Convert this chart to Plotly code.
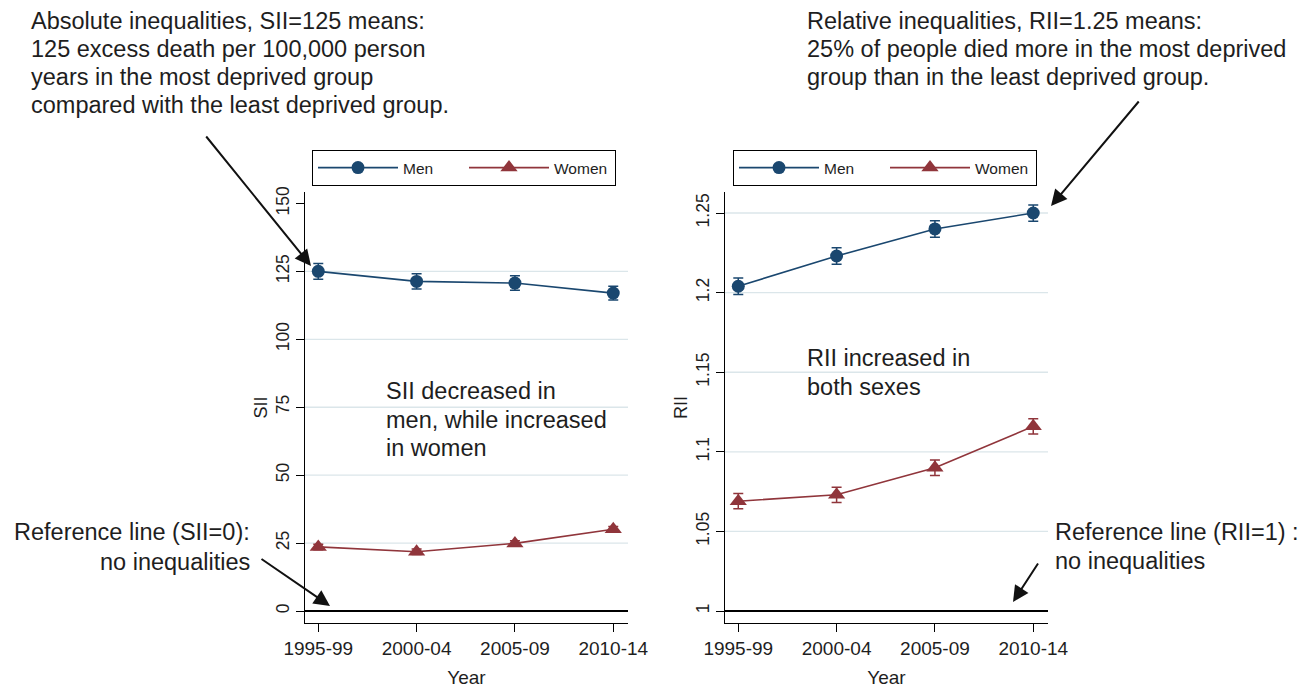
import plotly.graph_objects as go

# ---- data -------------------------------------------------------------
periods = ["1995-99", "2000-04", "2005-09", "2010-14"]

sii_men = [125.0, 121.3, 120.7, 117.0]
sii_men_err = [2.9, 2.8, 2.7, 2.5]
sii_women = [23.6, 21.8, 24.9, 30.1]
sii_women_err = [1.0, 1.0, 1.0, 1.0]

rii_men = [1.204, 1.223, 1.240, 1.250]
rii_men_err = [0.0052, 0.0052, 0.0052, 0.0051]
rii_women = [1.069, 1.073, 1.090, 1.116]
rii_women_err = [0.0048, 0.0048, 0.0048, 0.0048]

sii_ticks = [0, 25, 50, 75, 100, 125, 150]
sii_grid = [25, 50, 75, 100, 125]
rii_ticks = [1, 1.05, 1.1, 1.15, 1.2, 1.25]
rii_grid = [1.05, 1.1, 1.15, 1.2, 1.25]

# ---- styling ----------------------------------------------------------
W, H = 1313, 688
FONT = "Liberation Sans, Arial, Helvetica, sans-serif"
TXT = "#1e1e1e"
NAVY = "#1a476f"
MAROON = "#90353b"
GRID = "#dbe6ea"

def px_x(p):
    return p / W

def px_y(p):
    return 1 - p / H

x_idx = list(range(len(periods)))

fig = go.Figure()

def add_series(xa, ya, y, err, color, symbol, name, legend, size):
    fig.add_trace(go.Scatter(
        x=x_idx, y=y, xaxis=xa, yaxis=ya, name=name, legend=legend,
        mode="lines+markers",
        line=dict(color=color, width=1.6),
        marker=dict(color=color, symbol=symbol, size=size),
        error_y=dict(type="data", array=err, visible=True,
                     color=color, thickness=1.5, width=5),
    ))

add_series("x", "y", sii_men, sii_men_err, NAVY, "circle", "Men", "legend", 13)
add_series("x", "y", sii_women, sii_women_err, MAROON, "triangle-up", "Women", "legend", 15)
add_series("x2", "y2", rii_men, rii_men_err, NAVY, "circle", "Men", "legend2", 13)
add_series("x2", "y2", rii_women, rii_women_err, MAROON, "triangle-up", "Women", "legend2", 15)

ydom = [px_y(623), px_y(192)]
xrange = [-0.135, 3.15]

common_x = dict(
    tickmode="array", tickvals=x_idx, ticktext=periods, range=xrange,
    showline=True, linecolor="black", linewidth=1.3, automargin=False,
    ticks="outside", ticklen=8, tickcolor="black", tickwidth=1,
    showgrid=False, zeroline=False,
    tickfont=dict(family=FONT, size=19, color=TXT),
    title=dict(text="Year", font=dict(family=FONT, size=19, color=TXT), standoff=16),
)
common_y = dict(
    showline=True, linecolor="black", linewidth=1.3, automargin=False,
    ticks="outside", ticklen=8, tickcolor="black", tickwidth=1,
    showgrid=False, zeroline=False, tickangle=-90,
    tickfont=dict(family=FONT, size=17.5, color=TXT),
)

legend_style = dict(
    xanchor="left", yanchor="top", orientation="h",
    bordercolor="black", borderwidth=1, bgcolor="white",
    itemwidth=80, entrywidth=56,
    font=dict(family=FONT, size=15.5, color=TXT),
)

fig.update_layout(
    width=W, height=H,
    margin=dict(l=0, r=0, t=0, b=0, autoexpand=False),
    paper_bgcolor="white", plot_bgcolor="white",
    font=dict(family=FONT, color=TXT),
    xaxis=dict(domain=[px_x(305), px_x(628)], anchor="y", **common_x),
    xaxis2=dict(domain=[px_x(725), px_x(1048)], anchor="y2", **common_x),
    yaxis=dict(domain=ydom, anchor="x", range=[-4.4, 154.2],
               tickvals=sii_ticks, ticktext=[str(v) for v in sii_ticks],
               title=dict(text="SII", font=dict(family=FONT, size=18, color=TXT), standoff=0),
               **common_y),
    yaxis2=dict(domain=ydom, anchor="x2", range=[0.9925, 1.2632],
                tickvals=rii_ticks, ticktext=["1", "1.05", "1.1", "1.15", "1.2", "1.25"],
                title=dict(text="RII", font=dict(family=FONT, size=18, color=TXT), standoff=0),
                **common_y),
    legend=dict(x=px_x(312), y=px_y(150), **legend_style),
    legend2=dict(x=px_x(733), y=px_y(150), **legend_style),
)

# gridlines and the zero-inequality reference lines
shapes = []
for v in sii_grid:
    shapes.append(dict(type="line", xref="x domain", yref="y", x0=0, x1=1, y0=v, y1=v,
                       line=dict(color=GRID, width=1.3), layer="below"))
for v in rii_grid:
    shapes.append(dict(type="line", xref="x2 domain", yref="y2", x0=0, x1=1, y0=v, y1=v,
                       line=dict(color=GRID, width=1.3), layer="below"))
shapes.append(dict(type="line", xref="x domain", yref="y", x0=0, x1=1, y0=0, y1=0,
                   line=dict(color="black", width=2)))
shapes.append(dict(type="line", xref="x2 domain", yref="y2", x0=0, x1=1, y0=1, y1=1,
                   line=dict(color="black", width=2)))
fig.update_layout(shapes=shapes)

# ---- explanatory text blocks -----------------------------------------
notes = [
    # (lines, x px, first-line centre y px, line step px, anchor)
    (["Absolute inequalities, SII=125 means:",
      "125 excess death per 100,000 person",
      "years in the most deprived group",
      "compared with the least deprived group."], 29, 21, 28, "left"),
    (["Relative inequalities, RII=1.25 means:",
      "25% of people died more in the most deprived",
      "group than in the least deprived group."], 805, 21, 28, "left"),
    (["SII decreased in",
      "men, while increased",
      "in women"], 384, 391, 28.5, "left"),
    (["RII increased in",
      "both sexes"], 805, 358, 28.5, "left"),
    (["Reference line (SII=0):",
      "no inequalities"], 252, 532, 30, "right"),
    (["Reference line (RII=1) :",
      "no inequalities"], 1053, 532, 29, "left"),
]
annotations = []
for lines, x0, y0, step, anchor in notes:
    for i, line in enumerate(lines):
        annotations.append(dict(
            text=line, xref="paper", yref="paper",
            x=px_x(x0), y=px_y(y0 + i * step),
            xanchor=anchor, yanchor="middle", showarrow=False,
            font=dict(family=FONT, size=23.5, color=TXT)))

# pointer arrows: (head x, head y, tail x, tail y) in px
arrows = [
    (311, 266, 205, 135),
    (1051, 206, 1140, 100),
    (330, 606, 260, 558),
    (1013, 602, 1039, 562),
]
for hx, hy, tx, ty in arrows:
    annotations.append(dict(
        text="", xref="paper", yref="paper", x=px_x(hx), y=px_y(hy),
        ax=tx - hx, ay=ty - hy, showarrow=True,
        arrowhead=2, arrowsize=1.6, arrowwidth=2.0, arrowcolor="#111111"))

fig.update_layout(annotations=annotations)

fig.write_html("out.html")
